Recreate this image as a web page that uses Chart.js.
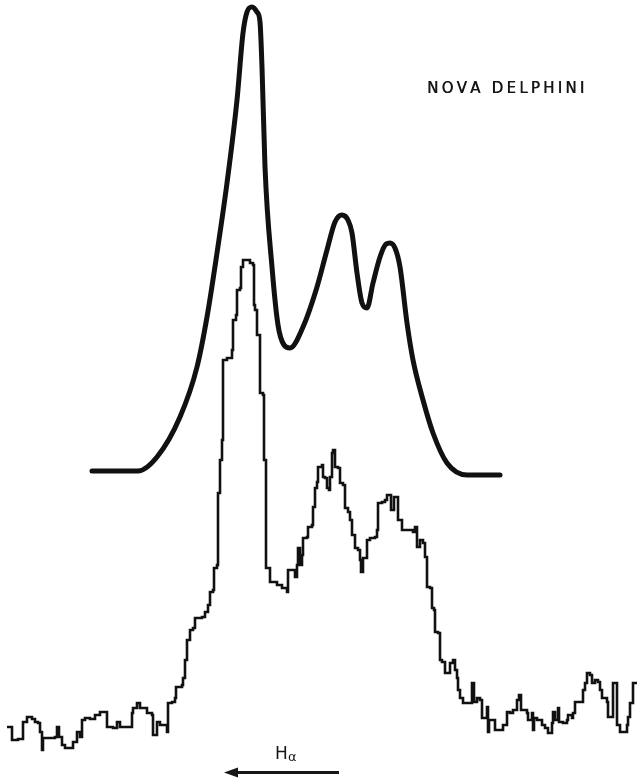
<!DOCTYPE html>
<html>
<head>
  <title>Nova Delphini H-alpha</title>
  <script src="https://cdn.jsdelivr.net/npm/chart.js"></script>
  <style>
    body { margin: 0; background: #fff; }
    #wrap { width: 638px; height: 779px; }
  </style>
</head>
<body>
  <div id="wrap"><canvas id="novaChart" width="638" height="779"></canvas></div>
  <script>
    // smoothed profile (upper curve), wavelength position vs relative intensity
    const envX = [92, 138, 157, 180, 197, 207, 217, 227, 237, 243, 247, 252, 257, 260, 262, 265, 272, 278, 284, 290,
                  303, 317, 327, 335, 342, 348, 352, 357, 362, 367, 373, 380, 386, 390, 395, 400, 407, 413, 423, 433,
                  447, 467, 500];
    const envY = [308, 308, 322, 362, 412, 462, 526, 596, 679, 746, 767, 772, 767, 757, 712, 612, 512, 454, 434, 431,
                  452, 492, 529, 557, 564, 559, 546, 506, 476, 471, 496, 522, 535, 536, 531, 512, 456, 419, 379, 346,
                  316, 304, 304];

    // raw scan (lower trace), one level per channel
    const specX = [7, 12, 18, 23, 27, 32, 35, 38, 40, 42, 43, 52, 55, 57, 59, 62, 65, 72, 73, 77,
                   80, 82, 85, 90, 95, 100, 105, 107, 113, 117, 120, 128, 132, 133, 137, 140, 143, 147, 152, 153,
                   155, 157, 160, 165, 167, 168, 172, 175, 176, 182, 183, 185, 187, 190, 193, 195, 202, 205, 208, 210,
                   213, 214, 217, 218, 220, 222, 223, 227, 232, 233, 236, 237, 240, 241, 243, 247, 250, 253, 254, 255,
                   257, 260, 263, 264, 266, 270, 277, 282, 287, 288, 292, 295, 297, 298, 300, 302, 303, 307, 308, 312,
                   313, 315, 317, 318, 322, 323, 325, 327, 329, 330, 332, 333, 335, 338, 340, 343, 345, 348, 350, 352,
                   355, 358, 360, 361, 363, 367, 370, 375, 377, 378, 382, 385, 387, 390, 391, 393, 394, 397, 398, 402,
                   407, 413, 415, 417, 420, 423, 425, 427, 430, 432, 434, 435, 438, 440, 442, 445, 448, 450, 453, 455,
                   457, 458, 460, 463, 471, 472, 474, 477, 480, 482, 485, 487, 488, 489, 493, 495, 500, 503, 507, 510,
                   513, 517, 519, 521, 527, 528, 532, 533, 534, 537, 542, 545, 548, 552, 553, 555, 557, 558, 559, 563,
                   567, 568, 572, 573, 575, 582, 583, 585, 587, 590, 592, 595, 598, 600, 602, 607, 608, 612, 613, 616,
                   617, 620, 623, 627, 628, 630, 633, 637];
    const specY = [52, 39, 40, 57, 62, 60, 57, 56, 47, 29, 41, 41, 42, 52, 42, 34, 31, 31, 37, 47,
                   42, 59, 61, 60, 64, 67, 67, 52, 51, 57, 52, 52, 66, 71, 76, 71, 71, 66, 64, 44,
                   44, 57, 54, 54, 47, 76, 77, 81, 92, 94, 101, 119, 139, 149, 151, 161, 162, 167, 174, 187,
                   189, 211, 214, 286, 319, 339, 419, 421, 429, 459, 464, 489, 491, 512, 519, 519, 516, 514, 474, 469,
                   444, 386, 384, 319, 211, 197, 194, 191, 187, 209, 209, 202, 214, 231, 214, 224, 241, 242, 252, 254,
                   272, 291, 297, 312, 314, 302, 301, 291, 289, 302, 326, 329, 312, 311, 296, 294, 271, 267, 259, 244,
                   231, 229, 219, 207, 221, 239, 241, 242, 249, 276, 277, 279, 284, 284, 269, 269, 282, 282, 259, 249,
                   249, 247, 252, 232, 239, 236, 222, 192, 191, 171, 169, 147, 146, 119, 117, 106, 106, 116, 119, 109,
                   101, 89, 81, 76, 76, 96, 77, 81, 79, 61, 61, 72, 47, 59, 59, 49, 49, 54, 67, 66,
                   69, 79, 84, 69, 66, 59, 66, 49, 61, 59, 54, 51, 46, 56, 67, 59, 59, 71, 57, 56,
                   59, 64, 61, 66, 77, 77, 89, 96, 106, 104, 96, 99, 97, 89, 81, 77, 62, 62, 96, 96,
                   54, 47, 47, 54, 62, 76, 96, 96];

    const title = 'NOVA DELPHINI';
    const lineLabel = 'H';
    const lineSub = 'α';

    const toPoints = (xs, ys) => xs.map((x, i) => ({ x: x, y: ys[i] }));

    // title, H-alpha marker and arrow
    const labelsPlugin = {
      id: 'labels',
      afterDraw(chart) {
        const ctx = chart.ctx;
        ctx.save();
        ctx.fillStyle = '#161616';
        ctx.strokeStyle = '#161616';

        ctx.font = '15px "DejaVu Sans"';
        ctx.textBaseline = 'alphabetic';
        const plain = ctx.measureText(title).width;
        const gap = (156 - plain) / (title.length - 1);
        let x = 427;
        for (const ch of title) {
          ctx.fillText(ch, x, 93);
          ctx.fillText(ch, x + 0.4, 93);
          x += ctx.measureText(ch).width + gap;
        }

        ctx.font = '17px "DejaVu Sans"';
        ctx.fillText(lineLabel, 275, 759);
        ctx.font = '13px "DejaVu Sans"';
        ctx.fillText(lineSub, 288, 761);

        ctx.lineWidth = 3;
        ctx.beginPath();
        ctx.moveTo(234, 772.5);
        ctx.lineTo(339, 772.5);
        ctx.stroke();
        ctx.beginPath();
        ctx.moveTo(224, 772.5);
        ctx.lineTo(238, 767.5);
        ctx.lineTo(238, 777.5);
        ctx.closePath();
        ctx.fill();
        ctx.restore();
      }
    };

    new Chart(document.getElementById('novaChart').getContext('2d'), {
      type: 'line',
      data: {
        datasets: [
          {
            label: 'Smoothed',
            data: toPoints(envX, envY),
            borderColor: '#111',
            borderWidth: 5,
            pointRadius: 0,
            cubicInterpolationMode: 'monotone',
            borderCapStyle: 'round',
            borderJoinStyle: 'round'
          },
          {
            label: 'Scan',
            data: toPoints(specX, specY),
            borderColor: '#111',
            borderWidth: 2.6,
            pointRadius: 0,
            stepped: true
          }
        ]
      },
      options: {
        responsive: false,
        animation: false,
        layout: { padding: 0 },
        plugins: { legend: { display: false }, tooltip: { enabled: false } },
        scales: {
          x: { type: 'linear', min: 0, max: 638, display: false },
          y: { min: 0, max: 779, display: false }
        }
      },
      plugins: [labelsPlugin]
    });
  </script>
</body>
</html>
